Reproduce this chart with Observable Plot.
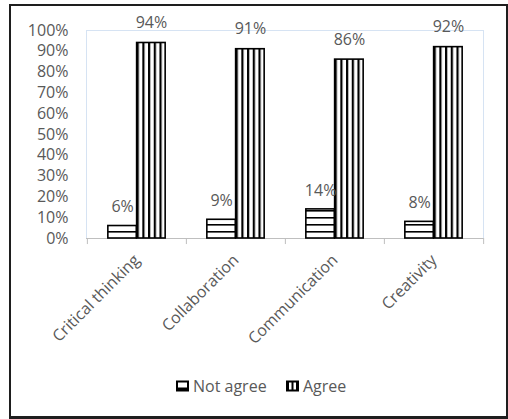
<!DOCTYPE html>
<html><head><meta charset="utf-8">
<script src="https://cdn.jsdelivr.net/npm/d3@7"></script>
<script src="https://cdn.jsdelivr.net/npm/@observablehq/plot@0.6"></script>
<style>
body{margin:0;background:#fff;}
#wrap{position:relative;width:508px;height:419px;overflow:hidden;background:#fff;}
#chart{position:absolute;left:0;top:0;}
#frame{position:absolute;left:9px;top:4px;width:499px;height:415px;box-sizing:border-box;border:2px solid #1e1e1e;border-bottom-width:3px;pointer-events:none;}
.leg{position:absolute;top:375px;height:22px;display:flex;align-items:center;font-family:"Open Sans",sans-serif;font-size:16px;color:#595959;white-space:nowrap;}
.leg svg{margin-right:4px;}
</style></head>
<body>
<div id="wrap"><div id="chart"></div><div id="legend"></div><div id="frame"></div></div>
<script>
const categories = ["Critical thinking", "Collaboration", "Communication", "Creativity"];
const series = ["Not agree", "Agree"];
const notAgree = [0.06, 0.09, 0.14, 0.08];
const agree = [0.94, 0.91, 0.86, 0.92];
const yTicks = [0, 0.1, 0.2, 0.3, 0.4, 0.5, 0.6, 0.7, 0.8, 0.9, 1.0];

const dataNot = categories.map((c, i) => ({category: c, series: series[0], value: notAgree[i]}));
const dataAgree = categories.map((c, i) => ({category: c, series: series[1], value: agree[i]}));

const W = 508, H = 365, mL = 86, mR = 25, mT = 30, mB = 127;
const bw = (W - mL - mR) / categories.length;
const barW = bw * 0.29;
const gap = (bw - 2 * barW) / 2;
const fmt = d3.format(".0%");
const axisGray = "#bfbfbf";
const textGray = "#595959";

const plot = Plot.plot({
  width: W, height: H,
  marginLeft: mL, marginRight: mR, marginTop: mT, marginBottom: mB,
  style: {fontFamily: "'Open Sans', sans-serif", fontSize: "16px", color: textGray, background: "transparent", overflow: "visible"},
  x: {domain: categories, padding: 0, label: null, tickSize: 0, tickRotate: -45, tickPadding: 19},
  y: {domain: [0, 1], ticks: yTicks, tickFormat: fmt, label: null, tickSize: 0, tickPadding: 18},
  marks: [
    Plot.frame({stroke: "#d6e3f3"}),
    Plot.ruleY([0], {stroke: axisGray, strokeWidth: 1.2}),
    Plot.ruleX(categories, {x: d => d, y1: 0, y2: -0.029, dx: -bw / 2, stroke: axisGray}),
    Plot.ruleX(categories.slice(-1), {x: d => d, y1: 0, y2: -0.029, dx: bw / 2, stroke: axisGray}),
    Plot.barY(dataNot, {x: "category", y: "value", insetLeft: gap, insetRight: gap + barW, fill: "url(#hstripe)", stroke: "#000", strokeWidth: 1.6}),
    Plot.barY(dataAgree, {x: "category", y: "value", insetLeft: gap + barW, insetRight: gap, fill: "url(#vstripe)", stroke: "#000", strokeWidth: 1.6}),
    Plot.text(dataNot, {x: "category", y: "value", text: d => fmt(d.value), dx: -barW / 2, dy: -19, fill: textGray}),
    Plot.text(dataAgree, {x: "category", y: "value", text: d => fmt(d.value), dx: barW / 2, dy: -20, fill: textGray})
  ]
});

const svg = d3.select(plot);
const defs = svg.insert("defs", ":first-child");
const hp = defs.append("pattern").attr("id", "hstripe").attr("patternUnits", "userSpaceOnUse").attr("width", 10).attr("height", 7);
hp.append("rect").attr("width", 10).attr("height", 7).attr("fill", "#fff");
hp.append("rect").attr("width", 10).attr("height", 1.6).attr("fill", "#000");
const vp = defs.append("pattern").attr("id", "vstripe").attr("patternUnits", "objectBoundingBox").attr("width", 0.2).attr("height", 1);
vp.append("rect").attr("width", 20).attr("height", 1000).attr("fill", "#fff");
vp.append("rect").attr("width", 2.2).attr("height", 1000).attr("fill", "#000");

document.getElementById("chart").appendChild(plot);

// legend
const legend = document.getElementById("legend");
const legX = [176, 286];
series.forEach((s, i) => {
  const item = document.createElement("div");
  item.className = "leg";
  item.style.left = legX[i] + "px";
  const sw = d3.create("svg").attr("width", 13).attr("height", 12);
  if (i === 0) {
    sw.append("rect").attr("x", 1).attr("y", 1.5).attr("width", 11).attr("height", 9).attr("fill", "#fff").attr("stroke", "#000").attr("stroke-width", 2);
    sw.append("rect").attr("x", 1).attr("y", 7.5).attr("width", 11).attr("height", 3).attr("fill", "#000");
  } else {
    sw.append("rect").attr("x", 0).attr("y", 0.5).attr("width", 13).attr("height", 11).attr("fill", "#000");
    sw.append("rect").attr("x", 3).attr("y", 2.5).attr("width", 2.5).attr("height", 7).attr("fill", "#fff");
    sw.append("rect").attr("x", 7.5).attr("y", 2.5).attr("width", 2.5).attr("height", 7).attr("fill", "#fff");
  }
  item.appendChild(sw.node());
  const t = document.createElement("span");
  t.textContent = s;
  item.appendChild(t);
  legend.appendChild(item);
});
</script>
</body></html>
